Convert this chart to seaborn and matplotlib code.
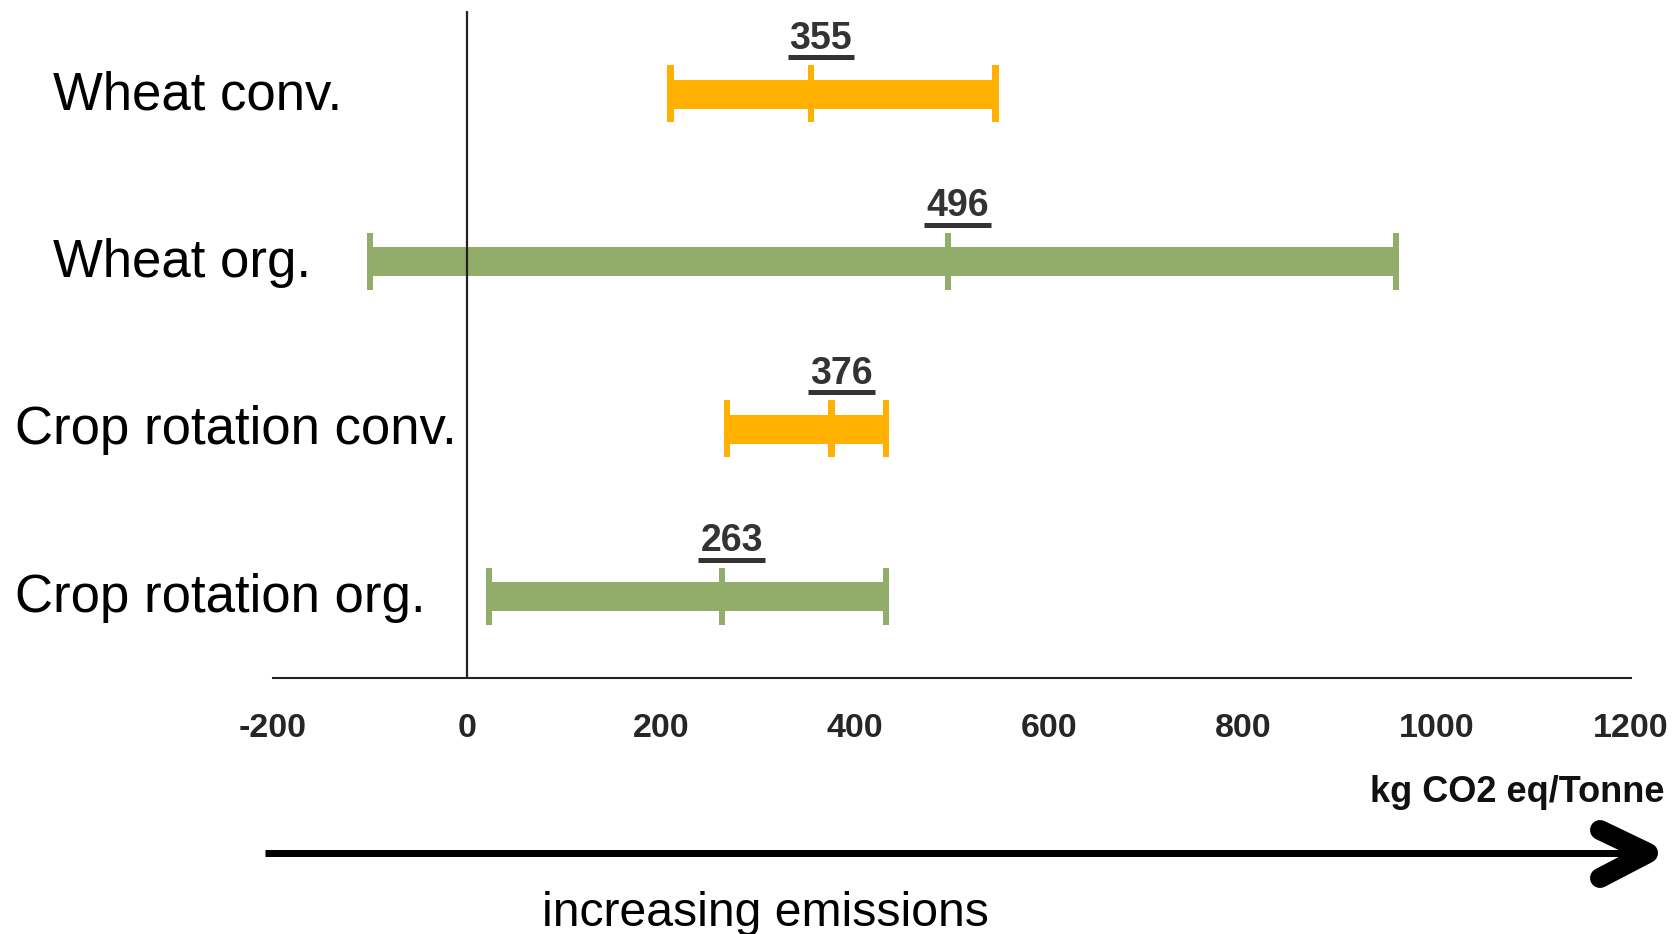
import numpy as np
import pandas as pd
import matplotlib
matplotlib.use("Agg")
import matplotlib.pyplot as plt
import seaborn as sns
from matplotlib.lines import Line2D
from matplotlib.transforms import IdentityTransform, blended_transform_factory, offset_copy

# =========================
# DATA
# =========================
categories = ["Wheat conv.", "Wheat org.", "Crop rotation conv.", "Crop rotation org."]
systems = ["conv", "org", "conv", "org"]
low_values = [210, -100, 268, 23]
high_values = [545, 958, 432, 432]
mean_values = [355, 496, 376, 263]
x_ticks = [-200, 0, 200, 400, 600, 800, 1000, 1200]
x_label = "kg CO2 eq/Tonne"
arrow_label = "increasing emissions"

palette = {"conv": "#FFB000", "org": "#92AC6A"}

df = pd.DataFrame({
    "category": categories,
    "system": systems,
    "low": low_values,
    "high": high_values,
    "mean": mean_values,
})
df["pos"] = np.arange(len(df))

# long table of the little vertical ticks (both ends and the mean)
ticks_df = df.melt(
    id_vars=["category", "system", "pos"],
    value_vars=["low", "mean", "high"],
    var_name="kind",
    value_name="value",
)

# =========================
# FIGURE
# =========================
sns.set_style("white")
plt.rcParams["font.family"] = ["Liberation Sans", "DejaVu Sans"]

W, H, DPI = 1677, 934, 100
fig = plt.figure(figsize=(W / DPI, H / DPI), dpi=DPI)
fig.patch.set_facecolor("white")

# axes placed so that -200..1200 spans the drawn axis line
ax = fig.add_axes([272.7 / W, 1 - 678 / H, (1631 - 272.7) / W, (678 - 11) / H])
ax.set_facecolor("white")

# thick range bars
bars = ax.hlines(
    df["pos"], df["low"], df["high"],
    colors=[palette[s] for s in df["system"]],
    linewidth=29 * 72 / DPI,
    zorder=2,
)
bars.set_capstyle("butt")

# end caps and mean ticks as thin rectangle markers
cap_marker = [(-0.054, -0.5), (0.054, -0.5), (0.054, 0.5), (-0.054, 0.5)]
sns.scatterplot(
    data=ticks_df, x="value", y="pos", hue="system", palette=palette,
    marker=cap_marker, s=(57 * 72 / DPI) ** 2, linewidth=0,
    legend=False, ax=ax, zorder=3,
)

# vertical zero line
ax.axvline(0, color="#222222", linewidth=1.6, zorder=4)

ax.set_xlim(-200, 1200)
ax.set_ylim(3.49, -0.496)
ax.set_xticks(x_ticks)
ax.set_xticklabels([str(t) for t in x_ticks], fontsize=24.5, fontweight="bold")
ax.set_yticks([])
ax.set_xlabel("")
ax.set_ylabel("")
ax.tick_params(axis="x", direction="out", length=7, width=1.5, color="#222222", pad=18)

for side in ["top", "left", "right"]:
    ax.spines[side].set_visible(False)
ax.spines["bottom"].set_color("#222222")
ax.spines["bottom"].set_linewidth(1.5)

# category labels on the left
label_x = [53, 53, 15, 15]
label_tr = offset_copy(blended_transform_factory(fig.transFigure, ax.transData),
                       fig=fig, x=0, y=4, units="dots")
for i, cat in enumerate(categories):
    fig.text(label_x[i] / W, df["pos"][i], cat, transform=label_tr,
             fontsize=38, ha="left", va="center_baseline", color="black")

# mean value labels (underlined)
mean_texts = []
for i, row in df.iterrows():
    t = ax.annotate(
        str(row["mean"]), xy=(row["mean"], row["pos"]),
        xytext=(7, 45 * 72 / DPI), textcoords="offset points",
        ha="center", va="baseline", fontsize=27, fontweight="bold",
        color="#333333",
    )
    mean_texts.append(t)

fig.canvas.draw()
for i, t in enumerate(mean_texts):
    bb = t.get_window_extent()
    base_y = ax.transData.transform((df["mean"][i], df["pos"][i]))[1] + 45 - 8.5
    fig.add_artist(Line2D([bb.x0 - 2, bb.x1 + 2], [base_y, base_y],
                          transform=IdentityTransform(), color="#333333",
                          linewidth=5 * 72 / DPI, solid_capstyle="butt"))

# axis unit label
fig.text(1665 / W, 1 - 793 / H, x_label, ha="right", va="center",
         fontsize=26, fontweight="bold", color="#111111")

# big arrow underneath
shaft_y = 1 - 853 / H
fig.add_artist(Line2D([265 / W, 1650 / W], [shaft_y, shaft_y],
                      color="black", linewidth=7 * 72 / DPI, solid_capstyle="butt"))
fig.add_artist(Line2D([1600 / W, 1648 / W, 1600 / W],
                      [1 - 830 / H, shaft_y, 1 - 878 / H],
                      color="black", linewidth=20 * 72 / DPI,
                      solid_capstyle="round", solid_joinstyle="round"))

fig.text(765 / W, 1 - 913 / H, arrow_label, ha="center", va="center",
         fontsize=34.7, color="black")

plt.savefig("out.png", dpi=DPI)
plt.close()
